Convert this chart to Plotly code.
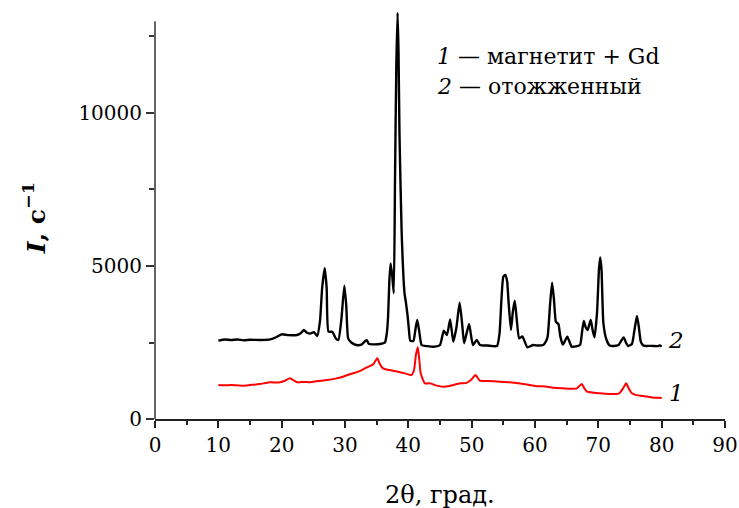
import plotly.graph_objects as go

# Series 2: annealed sample (black)
x_annealed = [10.0, 11.0, 12.0, 13.0, 14.0, 15.0, 16.6, 18.2, 19.2, 20.0, 21.0, 22.4, 23.0, 23.5, 24.0, 24.5,
              25.1, 25.6, 26.05, 26.4, 26.8, 27.1, 27.4, 28.0, 28.5, 28.95, 29.4, 29.9, 30.2, 30.5, 31.0,
              31.8, 32.6, 33.4, 33.8, 34.5, 35.5, 36.3, 36.6, 36.8, 37.0, 37.2, 37.45, 37.7, 37.9, 38.1,
              38.3, 38.45, 38.6, 38.95, 39.4, 39.6, 39.9, 40.1, 40.3, 40.8, 41.1, 41.4, 41.7, 42.1, 43.0,
              44.2, 45.0, 45.6, 46.1, 46.6, 47.1, 47.6, 48.1, 48.5, 48.8, 49.2, 49.6, 50.2, 50.8, 51.3,
              52.5, 54.0, 54.4, 54.7, 55.0, 55.3, 55.6, 55.8, 56.2, 56.5, 56.8, 57.1, 57.5, 58.0, 58.8,
              59.7, 60.5, 61.3, 61.7, 62.0, 62.4, 62.7, 63.0, 63.3, 63.7, 64.0, 64.4, 65.1, 65.8, 67.1,
              67.4, 67.7, 68.0, 68.3, 68.8, 69.1, 69.4, 69.8, 70.1, 70.3, 70.5, 70.8, 71.3, 71.8, 72.4,
              73.2, 73.6, 74.0, 74.4, 74.7, 75.3, 75.7, 76.1, 76.4, 76.7, 77.1, 77.6, 78.5, 79.3, 79.7, 80.0]
y_annealed = [2559, 2600, 2580, 2600, 2570, 2590, 2582, 2600, 2680, 2767, 2740, 2745, 2800, 2908, 2820, 2790,
              2840, 2712, 3200, 4300, 4924, 4300, 2853, 2853, 2650, 2582, 3200, 4357, 3700, 2636, 2500,
              2418, 2430, 2580, 2450, 2440, 2450, 2500, 2800, 3343, 4500, 5087, 4700, 4108, 7900, 11500,
              13278, 12000, 9346, 6070, 4108, 3834, 3343, 2900, 2559, 2550, 2900, 3235, 2900, 2418, 2380,
              2364, 2418, 2886, 2745, 3257, 2527, 3000, 3801, 3100, 2473, 2800, 3105, 2418, 2582, 2420,
              2400, 2386, 2800, 3900, 4650, 4706, 4500, 3900, 2908, 3500, 3867, 3300, 2636, 2700, 2342,
              2418, 2400, 2418, 2527, 2700, 3800, 4455, 3900, 3180, 3100, 2700, 2430, 2690, 2364, 2418,
              2800, 3202, 3000, 2908, 3235, 2900, 2668, 3500, 4900, 5283, 4900, 3126, 2582, 2400, 2386,
              2420, 2550, 2668, 2480, 2386, 2450, 2900, 3366, 3000, 2527, 2400, 2386, 2390, 2380, 2400, 2370]

# Series 1: magnetite + Gd (red)
x_magnetite = [10.0, 11.0, 12.0, 13.9, 15.0, 16.5, 18.2, 19.5, 20.5, 21.3, 22.0, 22.4, 23.5, 24.5, 25.5,
               27.1, 28.5, 29.7, 31.0, 32.1, 33.0, 33.7, 34.5, 35.1, 35.5, 36.0, 37.0, 38.4, 39.5, 40.5,
               40.9, 41.2, 41.5, 41.75, 41.95, 42.6, 43.4, 44.5, 45.5, 46.5, 48.2, 49.2, 50.0, 50.6, 51.3,
               52.5, 54.5, 56.0, 58.2, 60.0, 61.9, 63.0, 64.5, 65.5, 66.6, 67.0, 67.4, 67.8, 68.2, 70.3,
               71.8, 72.9, 73.4, 73.9, 74.4, 74.8, 75.3, 76.0, 77.1, 78.7, 79.7, 80.0]
y_magnetite = [1111, 1100, 1110, 1089, 1110, 1140, 1200, 1190, 1250, 1330, 1250, 1200, 1210, 1200, 1230,
               1275, 1320, 1383, 1480, 1546, 1640, 1710, 1800, 1983, 1800, 1656, 1600, 1546, 1490, 1438,
               1600, 2100, 2342, 1900, 1493, 1166, 1166, 1090, 1057, 1080, 1166, 1180, 1297, 1438, 1252,
               1240, 1220, 1200, 1144, 1080, 1057, 1020, 1003, 990, 1003, 1080, 1144, 1000, 893, 839,
               817, 817, 860, 1000, 1166, 1000, 839, 780, 752, 697, 697, 680]

legend_lines = ["<i>1</i> — магнетит + Gd", "<i>2</i> — отожженный"]
curve_labels = ["<i>1</i>", "<i>2</i>"]

FONT = "DejaVu Serif"

fig = go.Figure()
fig.add_trace(go.Scatter(x=x_annealed, y=y_annealed, mode="lines",
                         line=dict(color="black", width=2.4, shape="spline", smoothing=0.5),
                         showlegend=False, hoverinfo="skip"))
fig.add_trace(go.Scatter(x=x_magnetite, y=y_magnetite, mode="lines",
                         line=dict(color="red", width=2.0, shape="spline", smoothing=0.5),
                         showlegend=False, hoverinfo="skip"))

# left axis line up to 13000
fig.add_shape(type="line", xref="paper", yref="y", x0=0, x1=0, y0=0, y1=13000,
              line=dict(color="#333333", width=1.5))

fig.add_annotation(x=44.2, y=11830, xref="x", yref="y", text=legend_lines[0], showarrow=False,
                   xanchor="left", yanchor="middle", font=dict(family=FONT, size=22, color="black"))
fig.add_annotation(x=44.2, y=10850, xref="x", yref="y", text=legend_lines[1], showarrow=False,
                   xanchor="left", yanchor="middle", font=dict(family=FONT, size=22, color="black"))
fig.add_annotation(x=82.3, y=850, xref="x", yref="y", text=curve_labels[0], showarrow=False,
                   xanchor="center", yanchor="middle", font=dict(family=FONT, size=23, color="black"))
fig.add_annotation(x=82.3, y=2582, xref="x", yref="y", text=curve_labels[1], showarrow=False,
                   xanchor="center", yanchor="middle", font=dict(family=FONT, size=23, color="black"))

# axis titles
fig.add_annotation(x=0.5, y=-0.187, xref="paper", yref="paper", text="2θ, град.", showarrow=False,
                   xanchor="center", yanchor="middle", font=dict(family=FONT, size=24, color="black"))
fig.add_annotation(x=-0.21, y=0.494, xref="paper", yref="paper", text="<b><i>I</i>, с<sup>−1</sup></b>",
                   showarrow=False, textangle=-90, xanchor="center", yanchor="middle",
                   font=dict(family=FONT, size=25, color="black"))

fig.update_layout(
    width=739, height=508,
    margin=dict(l=155, r=14, t=12, b=89, autoexpand=False),
    plot_bgcolor="white", paper_bgcolor="white",
    font=dict(family=FONT, size=20, color="black"),
    xaxis=dict(range=[0, 90], dtick=10, tick0=0, showgrid=False, zeroline=False, automargin=False,
               showline=True, linecolor="#222222", linewidth=2,
               ticks="outside", ticklen=7, tickwidth=1.5, tickcolor="#222222",
               minor=dict(dtick=5, ticks="outside", ticklen=4, tickwidth=1.5, tickcolor="#222222"),
               tickfont=dict(family=FONT, size=20)),
    yaxis=dict(range=[0, 13300], dtick=5000, tick0=0, showgrid=False, zeroline=False, automargin=False,
               showline=False, tickformat="d",
               ticks="outside", ticklen=8, tickwidth=1.5, tickcolor="#333333",
               minor=dict(dtick=2500, ticks="outside", ticklen=5, tickwidth=1.5, tickcolor="#333333"),
               tickfont=dict(family=FONT, size=20)),
)

# remove the browser's default 8px body margin so the figure fills the window exactly
fig.write_html("out.html", config={"displayModeBar": False},
               post_script="document.body.style.margin='0';document.body.style.overflow='hidden';")
